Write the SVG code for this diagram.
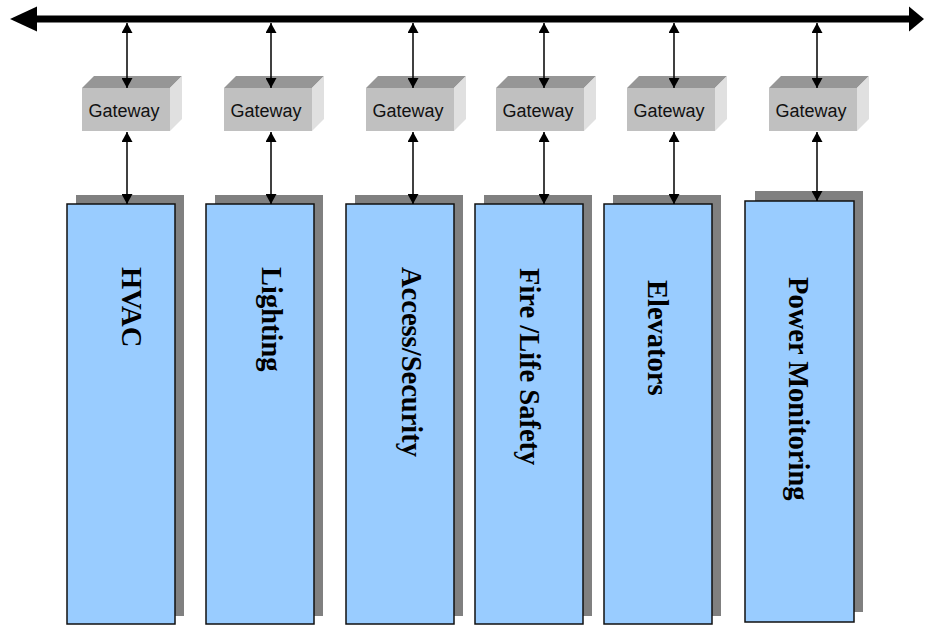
<svg xmlns="http://www.w3.org/2000/svg" width="925" height="625" viewBox="0 0 925 625">
<style>
.front{fill:#C0C0C0}
.top{fill:#969696}
.side{fill:#E0E0E0}
.gwt{font-family:"Liberation Sans",Arial,sans-serif;font-size:18px;fill:#111;text-anchor:middle}
.shadow{fill:#808080}
.sys{fill:#99CCFF;stroke:#111;stroke-width:1.5}
.lbl{font-family:"Liberation Serif","Times New Roman",serif;font-size:28.5px;font-weight:bold;fill:#000}
.conn{stroke:#000;stroke-width:1.5;fill:none;marker-start:url(#ah);marker-end:url(#ah)}
</style>
<defs>
<marker id="ah" markerUnits="userSpaceOnUse" markerWidth="10" markerHeight="11" refX="10" refY="5.5" orient="auto-start-reverse" viewBox="0 0 10 11">
<path d="M0,0 L10,5.5 L0,11 z" fill="#000"/>
</marker>
</defs>
<g id="gateway1">
<polygon class="top" points="82,88 94,76 182,76 170,88"/>
<polygon class="side" points="170,88 182,76 182,119 170,131"/>
<rect class="front" x="82" y="88" width="88" height="43"/>
<text class="gwt" x="124" y="117">Gateway</text>
</g>
<g id="gateway2">
<polygon class="top" points="224,88 236,76 324,76 312,88"/>
<polygon class="side" points="312,88 324,76 324,119 312,131"/>
<rect class="front" x="224" y="88" width="88" height="43"/>
<text class="gwt" x="266" y="117">Gateway</text>
</g>
<g id="gateway3">
<polygon class="top" points="366,88 378,76 466,76 454,88"/>
<polygon class="side" points="454,88 466,76 466,119 454,131"/>
<rect class="front" x="366" y="88" width="88" height="43"/>
<text class="gwt" x="408" y="117">Gateway</text>
</g>
<g id="gateway4">
<polygon class="top" points="496,88 508,76 596,76 584,88"/>
<polygon class="side" points="584,88 596,76 596,119 584,131"/>
<rect class="front" x="496" y="88" width="88" height="43"/>
<text class="gwt" x="538" y="117">Gateway</text>
</g>
<g id="gateway5">
<polygon class="top" points="627,88 639,76 727,76 715,88"/>
<polygon class="side" points="715,88 727,76 727,119 715,131"/>
<rect class="front" x="627" y="88" width="88" height="43"/>
<text class="gwt" x="669" y="117">Gateway</text>
</g>
<g id="gateway6">
<polygon class="top" points="769,88 781,76 869,76 857,88"/>
<polygon class="side" points="857,88 869,76 869,119 857,131"/>
<rect class="front" x="769" y="88" width="88" height="43"/>
<text class="gwt" x="811" y="117">Gateway</text>
</g>
<g id="hvac">
<rect class="shadow" x="76" y="195" width="108" height="421"/>
<rect class="sys" x="67" y="204" width="108" height="420"/>
<text class="lbl" transform="translate(122,267) rotate(90)">HVAC</text>
</g>
<g id="lighting">
<rect class="shadow" x="215" y="195" width="108" height="421"/>
<rect class="sys" x="206" y="204" width="108" height="420"/>
<text class="lbl" transform="translate(262,267) rotate(90)">Lighting</text>
</g>
<g id="access">
<rect class="shadow" x="355" y="195" width="108" height="421"/>
<rect class="sys" x="346" y="204" width="108" height="420"/>
<text class="lbl" transform="translate(402,267) rotate(90)">Access/Security</text>
</g>
<g id="fire">
<rect class="shadow" x="484" y="195" width="108" height="421"/>
<rect class="sys" x="475" y="204" width="108" height="420"/>
<text class="lbl" transform="translate(520,268) rotate(90)">Fire /Life Safety</text>
</g>
<g id="elevators">
<rect class="shadow" x="613" y="195" width="108" height="421"/>
<rect class="sys" x="604" y="204" width="108" height="420"/>
<text class="lbl" transform="translate(648,280) rotate(90)">Elevators</text>
</g>
<g id="power">
<rect class="shadow" x="755" y="191" width="108" height="421"/>
<rect class="sys" x="745" y="201" width="109" height="421"/>
<text class="lbl" transform="translate(789,277) rotate(90)">Power Monitoring</text>
</g>
<g id="connectors">
<g id="bus">
<line x1="36" y1="19" x2="911" y2="19" stroke="#000" stroke-width="7"/>
<polygon points="10,19 37,6.5 37,31.5" fill="#000"/>
<polygon points="924,19 909,6.5 909,31.5" fill="#000"/>
</g>
<path class="conn" d="M127,23 V88"/>
<path class="conn" d="M271,23 V88"/>
<path class="conn" d="M413,23 V88"/>
<path class="conn" d="M544,23 V88"/>
<path class="conn" d="M674,23 V88"/>
<path class="conn" d="M817,23 V88"/>
<path class="conn" d="M127,132 V204"/>
<path class="conn" d="M271,132 V204"/>
<path class="conn" d="M413,132 V204"/>
<path class="conn" d="M544,132 V204"/>
<path class="conn" d="M674,132 V204"/>
<path class="conn" d="M817,132 V201"/>
</g>
</svg>
